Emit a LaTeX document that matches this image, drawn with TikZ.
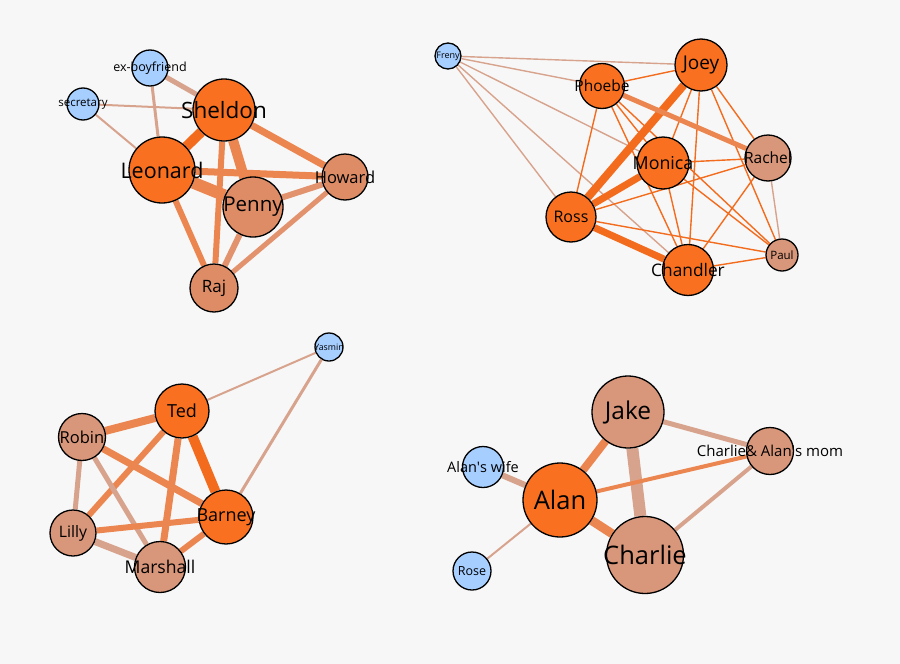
\documentclass[tikz,border=0pt]{standalone}
\usepackage{fontspec}
\setmainfont{Open Sans}
\definecolor{paper}{HTML}{F7F7F7}
\definecolor{hub}{HTML}{F97120}
\definecolor{mid}{HTML}{DD8C66}
\definecolor{pale}{HTML}{D8967A}
\definecolor{extra}{HTML}{A6CEFF}
\definecolor{hotline}{HTML}{F36C1E}
\definecolor{orgline}{HTML}{EC8651}
\definecolor{mixline}{HTML}{E2926D}
\definecolor{tanline}{HTML}{D8A38D}
\pgfdeclarelayer{paperlayer}
\pgfdeclarelayer{links}
\pgfsetlayers{paperlayer,links,main}
\tikzset{
  person/.style={circle,draw=black,line width=1.3pt,inner sep=0pt,text=black},
  lead/.style={person,fill=hub},
  cast/.style={person,fill=mid},
  side/.style={person,fill=pale},
  guest/.style={person,fill=extra},
  hot/.style={draw=hotline,line width=#1},
  org/.style={draw=orgline,line width=#1},
  mix/.style={draw=mixline,line width=#1},
  tan/.style={draw=tanline,line width=#1},
  hot/.default=1.4pt, org/.default=1.4pt, mix/.default=1.4pt, tan/.default=1.4pt
}
% label that does not widen its circle
\newcommand{\nm}[2]{\makebox[0pt]{\fontsize{#1}{#1}\selectfont #2}}
\begin{document}
\begin{tikzpicture}[x=1pt,y=-1pt]
\begin{pgfonlayer}{paperlayer}
\fill[paper] (0,0) rectangle (900,664);
\end{pgfonlayer}
\useasboundingbox (0,0) rectangle (900,664);

% the big bang theory
\node[guest,minimum size=36pt] (exbf) at (150,68) {\nm{12.5}{ex-boyfriend}};
\node[guest,minimum size=32pt] (secr) at (83,104) {\nm{11.5}{secretary}};
\node[lead,minimum size=62pt] (sheldon) at (224,110) {\nm{22.5}{Sheldon}};
\node[lead,minimum size=66pt] (leonard) at (162,170) {\nm{21.5}{Leonard}};
\node[cast,minimum size=46pt] (howard) at (345,177) {\nm{16.5}{Howard}};
\node[cast,minimum size=60pt] (penny) at (253,207) {\nm{20.5}{Penny}};
\node[cast,minimum size=48pt] (raj) at (214,288) {\nm{17}{Raj}};

% friends
\node[guest,minimum size=26pt] (freny) at (448,56) {\nm{9}{Freny}};
\node[lead,minimum size=52pt] (joey) at (701,65) {\nm{19}{Joey}};
\node[lead,minimum size=45pt] (phoebe) at (602,86) {\nm{15.5}{Phoebe}};
\node[lead,minimum size=52pt] (monica) at (663,163) {\nm{17.8}{Monica}};
\node[side,minimum size=46pt] (rachel) at (768,158) {\nm{15.5}{Rachel}};
\node[lead,minimum size=50pt] (ross) at (571,217) {\nm{16}{Ross}};
\node[lead,minimum size=51pt] (chandler) at (688,270) {\nm{17.3}{Chandler}};
\node[side,minimum size=32pt] (paul) at (782,255) {\nm{11.5}{Paul}};

% how i met your mother
\node[guest,minimum size=28pt] (yasmin) at (329,347) {\nm{8.8}{Yasmin}};
\node[lead,minimum size=54pt] (ted) at (182,411) {\nm{18}{Ted}};
\node[side,minimum size=47pt] (robin) at (82,437) {\nm{16.5}{Robin}};
\node[lead,minimum size=54pt] (barney) at (226,517) {\nm{18}{Barney}};
\node[side,minimum size=46pt] (lilly) at (73,533) {\nm{15.8}{Lilly}};
\node[side,minimum size=51pt] (marshall) at (160,567) {\nm{17.6}{Marshall}};

% two and a half men
\node[side,minimum size=72pt] (jake) at (628,412) {\nm{24.5}{Jake}};
\node[side,minimum size=47pt] (mom) at (770,451) {\nm{15}{Charlie\& Alan\textquotesingle s mom}};
\node[guest,minimum size=41pt] (wife) at (483,467) {\nm{14.5}{Alan\textquotesingle s wife}};
\node[lead,minimum size=74pt] (alan) at (560,500) {\nm{25.5}{Alan}};
\node[side,minimum size=77pt] (charlie) at (645,555) {\nm{25.5}{Charlie}};
\node[guest,minimum size=38pt] (rose) at (472,571) {\nm{12.5}{Rose}};

\begin{pgfonlayer}{links}
\path
  (exbf) edge[tan=5pt] (sheldon)
  (exbf) edge[tan=3pt] (leonard)
  (secr) edge[tan=2pt] (sheldon)
  (secr) edge[tan=2pt] (leonard)
  (leonard) edge[hot=10pt] (sheldon)
  (leonard) edge[org=12pt] (penny)
  (sheldon) edge[org=10pt] (penny)
  (leonard) edge[org=7pt] (howard)
  (sheldon) edge[org=7pt] (howard)
  (leonard) edge[org=6pt] (raj)
  (sheldon) edge[org=6pt] (raj)
  (penny) edge[mix=6pt] (howard)
  (penny) edge[mix=6pt] (raj)
  (howard) edge[mix=5pt] (raj);
\path
  (freny) edge[tan] (joey)
  (freny) edge[tan] (phoebe)
  (freny) edge[tan] (monica)
  (freny) edge[tan] (ross)
  (freny) edge[tan] (chandler)
  (joey) edge[hot] (phoebe)
  (joey) edge[hot=8pt] (ross)
  (joey) edge[hot] (monica)
  (joey) edge[hot] (chandler)
  (joey) edge[hot] (rachel)
  (joey) edge[hot] (paul)
  (phoebe) edge[org=5pt] (rachel)
  (phoebe) edge[hot] (monica)
  (phoebe) edge[hot] (ross)
  (phoebe) edge[hot] (chandler)
  (phoebe) edge[hot] (paul)
  (monica) edge[hot=7pt] (ross)
  (monica) edge[hot] (rachel)
  (monica) edge[hot] (chandler)
  (monica) edge[hot] (paul)
  (ross) edge[hot=7pt] (chandler)
  (ross) edge[hot] (rachel)
  (ross) edge[hot] (paul)
  (rachel) edge[hot] (chandler)
  (rachel) edge[tan] (paul)
  (chandler) edge[hot] (paul);
\path
  (ted) edge[tan=2pt] (yasmin)
  (barney) edge[tan=3pt] (yasmin)
  (ted) edge[org=8pt] (robin)
  (ted) edge[hot=10pt] (barney)
  (ted) edge[org=6pt] (lilly)
  (ted) edge[org=7pt] (marshall)
  (robin) edge[org=7pt] (barney)
  (robin) edge[tan=5pt] (lilly)
  (robin) edge[tan=5pt] (marshall)
  (lilly) edge[org=6pt] (barney)
  (lilly) edge[tan=7pt] (marshall)
  (marshall) edge[org=6pt] (barney);
\path
  (alan) edge[org=8pt] (jake)
  (alan) edge[org=9pt] (charlie)
  (jake) edge[tan=12pt] (charlie)
  (jake) edge[tan=5pt] (mom)
  (alan) edge[org=4pt] (mom)
  (charlie) edge[tan=4pt] (mom)
  (alan) edge[tan=6pt] (wife)
  (alan) edge[tan=2pt] (rose);
\end{pgfonlayer}
\end{tikzpicture}
\end{document}
